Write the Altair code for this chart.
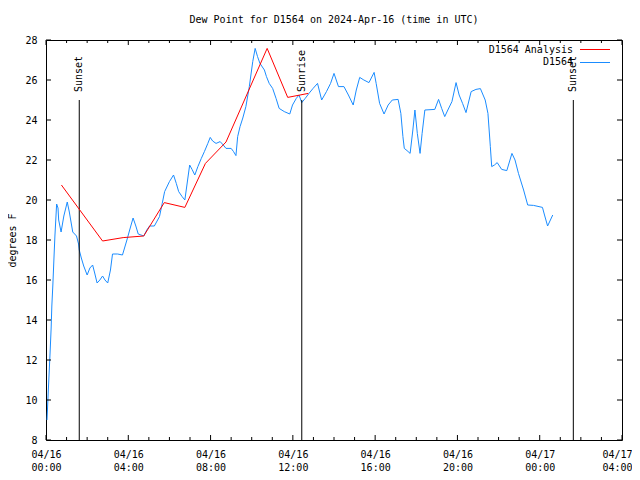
import altair as alt
import pandas as pd

FONT = "DejaVu Sans Mono"
BLUE = "#1a8cff"
RED = "#ff0000"

# ---- data ----
blue_time = [
    "04-16 00:03", "04-16 00:06", "04-16 00:09", "04-16 00:12", "04-16 00:15", "04-16 00:17",
    "04-16 00:20", "04-16 00:23", "04-16 00:26", "04-16 00:31", "04-16 00:35", "04-16 00:37",
    "04-16 00:44", "04-16 00:52", "04-16 01:02", "04-16 01:08", "04-16 01:18", "04-16 01:29",
    "04-16 01:35", "04-16 01:37", "04-16 01:43", "04-16 01:50", "04-16 02:00", "04-16 02:08",
    "04-16 02:16", "04-16 02:22", "04-16 02:29", "04-16 02:37", "04-16 02:45", "04-16 02:52",
    "04-16 03:00", "04-16 03:08", "04-16 03:14", "04-16 03:29", "04-16 03:43", "04-16 03:56",
    "04-16 04:04", "04-16 04:14", "04-16 04:22", "04-16 04:29", "04-16 04:37", "04-16 04:45",
    "04-16 04:54", "04-16 05:02", "04-16 05:16", "04-16 05:31", "04-16 05:39", "04-16 05:46",
    "04-16 06:00", "04-16 06:12", "04-16 06:20", "04-16 06:27", "04-16 06:37", "04-16 06:45",
    "04-16 06:51", "04-16 06:59", "04-16 07:06", "04-16 07:14", "04-16 07:23", "04-16 07:33",
    "04-16 07:42", "04-16 07:52", "04-16 07:59", "04-16 08:06", "04-16 08:16", "04-16 08:28",
    "04-16 08:37", "04-16 08:45", "04-16 09:00", "04-16 09:07", "04-16 09:14", "04-16 09:19",
    "04-16 09:26", "04-16 09:34", "04-16 09:43", "04-16 09:53", "04-16 10:03", "04-16 10:10",
    "04-16 10:17", "04-16 10:24", "04-16 10:37", "04-16 10:43", "04-16 10:51", "04-16 11:01",
    "04-16 11:11", "04-16 11:20", "04-16 11:35", "04-16 11:51", "04-16 11:59", "04-16 12:10",
    "04-16 12:18", "04-16 12:26", "04-16 12:36", "04-16 12:47", "04-16 12:59", "04-16 13:12",
    "04-16 13:24", "04-16 13:38", "04-16 13:50", "04-16 14:00", "04-16 14:13", "04-16 14:29",
    "04-16 14:42", "04-16 14:49", "04-16 14:56", "04-16 15:05", "04-16 15:15", "04-16 15:27",
    "04-16 15:42", "04-16 15:57", "04-16 16:03", "04-16 16:13", "04-16 16:26", "04-16 16:38",
    "04-16 16:50", "04-16 17:07", "04-16 17:15", "04-16 17:21", "04-16 17:25", "04-16 17:33",
    "04-16 17:42", "04-16 17:50", "04-16 17:56", "04-16 18:03", "04-16 18:11", "04-16 18:17",
    "04-16 18:25", "04-16 18:54", "04-16 19:05", "04-16 19:14", "04-16 19:23", "04-16 19:32",
    "04-16 19:44", "04-16 19:56", "04-16 20:05", "04-16 20:15", "04-16 20:25", "04-16 20:40",
    "04-16 20:54", "04-16 21:07", "04-16 21:21", "04-16 21:29", "04-16 21:36", "04-16 21:40",
    "04-16 21:48", "04-16 21:56", "04-16 22:09", "04-16 22:24", "04-16 22:39", "04-16 22:48",
    "04-16 22:58", "04-16 23:13", "04-16 23:25", "04-16 23:42", "04-17 00:08", "04-17 00:14",
    "04-17 00:23", "04-17 00:38",
]
blue_dewp = [
    9.0, 10.2, 11.3, 12.4, 13.6, 14.7,
    15.75, 17.0, 18.2, 19.8, 19.6, 19.0,
    18.4, 19.2, 19.9, 19.4, 18.4, 18.2,
    17.8, 17.5, 17.1, 16.7, 16.25, 16.6,
    16.75, 16.35, 15.85, 16.0, 16.2, 16.0,
    15.85, 16.5, 17.3, 17.3, 17.25, 18.0,
    18.5, 19.1, 18.7, 18.3, 18.25, 18.2,
    18.5, 18.7, 18.7, 19.17, 19.83, 20.42,
    20.92, 21.25, 20.83, 20.42, 20.17, 20.0,
    20.75, 21.75, 21.53, 21.25, 21.67, 22.08,
    22.42, 22.83, 23.13, 22.95, 22.83, 22.92,
    22.75, 22.58, 22.58, 22.42, 22.22, 23.17,
    23.67, 24.1, 24.67, 25.67, 26.92, 27.58,
    27.17, 26.83, 26.5, 26.17, 25.83, 25.58,
    25.08, 24.58, 24.42, 24.3, 24.75, 25.08,
    25.25, 24.87, 25.08, 25.33, 25.58, 25.83,
    25.0, 25.42, 25.83, 26.33, 25.67, 25.67,
    25.25, 25.0, 24.75, 25.5, 26.13, 26.0,
    25.87, 26.38, 25.83, 24.83, 24.3, 24.75,
    25.0, 25.03, 24.33, 23.17, 22.58, 22.47,
    22.33, 23.5, 24.5, 23.33, 22.33, 23.33,
    24.5, 24.53, 25.03, 24.58, 24.17, 24.5,
    24.92, 25.87, 25.25, 24.83, 24.37, 25.42,
    25.53, 25.57, 25.0, 24.33, 22.67, 21.67,
    21.75, 21.87, 21.53, 21.47, 22.33, 22.0,
    21.33, 20.5, 19.75, 19.73, 19.63, 19.25,
    18.7, 19.25,
]
anl_time = ["04-16 00:45", "04-16 02:45", "04-16 03:45", "04-16 04:45", "04-16 05:45",
            "04-16 06:45", "04-16 07:45", "04-16 08:45", "04-16 10:45", "04-16 11:45",
            "04-16 12:45"]
anl_dewp = [20.75, 17.95, 18.12, 18.2, 19.87, 19.63, 21.83, 22.9, 27.58, 25.13, 25.33]

sun_time = ["04-16 01:37", "04-16 12:26", "04-17 01:38"]
sun_label = ["Sunset", "Sunrise", "Sunset"]

y_ticks = [8, 10, 12, 14, 16, 18, 20, 22, 24, 26, 28]
x_tick_hours = list(range(0, 29))
x_major_hours = [0, 4, 8, 12, 16, 20, 24, 28]


def iso(s):
    return "2024-" + s.replace(" ", "T") + ":00Z"


def hour_iso(h):
    return (pd.Timestamp("2024-04-16T00:00:00Z") + pd.Timedelta(hours=h)).strftime("%Y-%m-%dT%H:%M:%SZ")


blue_df = pd.DataFrame({"t": [iso(s) for s in blue_time], "v": blue_dewp})
anl_df = pd.DataFrame({"t": [iso(s) for s in anl_time], "v": anl_dewp})
sun_df = pd.DataFrame({"t": [iso(s) for s in sun_time], "label": sun_label})
major_df = pd.DataFrame({"t": [hour_iso(h) for h in x_major_hours]})
minor_df = pd.DataFrame({"t": [hour_iso(h) for h in x_tick_hours if h not in x_major_hours]})
ytick_df = pd.DataFrame({"v": y_ticks})
one = pd.DataFrame({"a": [0]})

W, H = 576, 400

xs = alt.Scale(
    type="utc",
    domain=[alt.DateTime(year=2024, month=4, date=16, hours=0, utc=True),
            alt.DateTime(year=2024, month=4, date=17, hours=4, utc=True)],
    nice=False,
)
ys = alt.Scale(domain=[8, 28], nice=False, zero=False)

last_test = "datum.value >= datetime(2024, 3, 17, 3, 0)"

x_axis = alt.Axis(
    values=[alt.DateTime(year=2024, month=4, date=16 + h // 24, hours=h % 24, utc=True) for h in x_major_hours],
    labelExpr="[utcFormat(datum.value, '%m/%d'), utcFormat(datum.value, '%H:%M')]",
    tickSize=0, domain=False, grid=False, labelFont=FONT, labelFontSize=10,
    labelColor="black", labelPadding=9, labelFlush=False, labelOverlap=False,
    labelLineHeight=13, title=None,
    labelAlign={"condition": {"test": "datum.index == 1", "value": "right"}, "value": "center"},
    labelOffset={"condition": {"test": "datum.index == 1", "value": 10}, "value": 0},
)
y_axis = alt.Axis(
    values=y_ticks, tickSize=0, domain=False, grid=False, labelFont=FONT,
    labelFontSize=10, labelColor="black", labelPadding=9, title="degrees F",
    titleFont=FONT, titleFontSize=10, titleFontWeight="normal", titleColor="black",
    titlePadding=7,
)


def X():
    return alt.X("t:T", scale=xs, axis=x_axis)


def Y():
    return alt.Y("v:Q", scale=ys, axis=y_axis)


sun_rules = alt.Chart(sun_df).mark_rule(color="black", strokeWidth=1).encode(
    x=X(), y=alt.value(60), y2=alt.value(H))
sun_text = alt.Chart(sun_df).mark_text(
    angle=270, align="left", baseline="middle", font=FONT, fontSize=10, color="black"
).encode(x=X(), y=alt.value(52), text="label:N")

anl_line = alt.Chart(anl_df).mark_line(color=RED, strokeWidth=1).encode(x=X(), y=Y())
blue_line = alt.Chart(blue_df).mark_line(color=BLUE, strokeWidth=1).encode(x=X(), y=Y())

bot_major = alt.Chart(major_df).mark_rule(color="black").encode(x=X(), y=alt.value(H), y2=alt.value(H - 5))
bot_minor = alt.Chart(minor_df).mark_rule(color="black").encode(x=X(), y=alt.value(H), y2=alt.value(H - 3))
top_major = alt.Chart(major_df).mark_rule(color="black").encode(x=X(), y=alt.value(0), y2=alt.value(5))
top_minor = alt.Chart(minor_df).mark_rule(color="black").encode(x=X(), y=alt.value(0), y2=alt.value(3))
left_ticks = alt.Chart(ytick_df).mark_rule(color="black").encode(
    y=Y(), x=alt.value(0), x2=alt.value(5))
right_ticks = alt.Chart(ytick_df).mark_rule(color="black").encode(
    y=Y(), x=alt.value(W), x2=alt.value(W - 5))

leg_t1 = alt.Chart(one).mark_text(align="right", baseline="middle", font=FONT, fontSize=10, color="black").encode(
    x=alt.value(527), y=alt.value(10), text=alt.value("D1564 Analysis"))
leg_l1 = alt.Chart(one).mark_rule(color=RED, strokeWidth=1).encode(
    x=alt.value(534), x2=alt.value(564), y=alt.value(9.5))
leg_t2 = alt.Chart(one).mark_text(align="right", baseline="middle", font=FONT, fontSize=10, color="black").encode(
    x=alt.value(527), y=alt.value(22), text=alt.value("D1564"))
leg_l2 = alt.Chart(one).mark_rule(color=BLUE, strokeWidth=1).encode(
    x=alt.value(534), x2=alt.value(564), y=alt.value(22.5))

chart = alt.layer(
    blue_line, sun_rules, sun_text, anl_line,
    bot_major, bot_minor, top_major, top_minor, left_ticks, right_ticks,
    leg_t1, leg_l1, leg_t2, leg_l2,
).properties(
    width=W, height=H,
    autosize="none",
    padding={"left": 38, "top": 32, "right": 10, "bottom": 32},
    background="white",
    title=alt.TitleParams(
        "Dew Point for D1564 on 2024-Apr-16 (time in UTC)",
        font=FONT, fontSize=10, fontWeight="normal", color="black",
        anchor="middle", offset=10,
    ),
).configure_view(stroke="black", strokeWidth=1)

chart.save("out.html", embed_options={"renderer": "svg", "actions": False})
